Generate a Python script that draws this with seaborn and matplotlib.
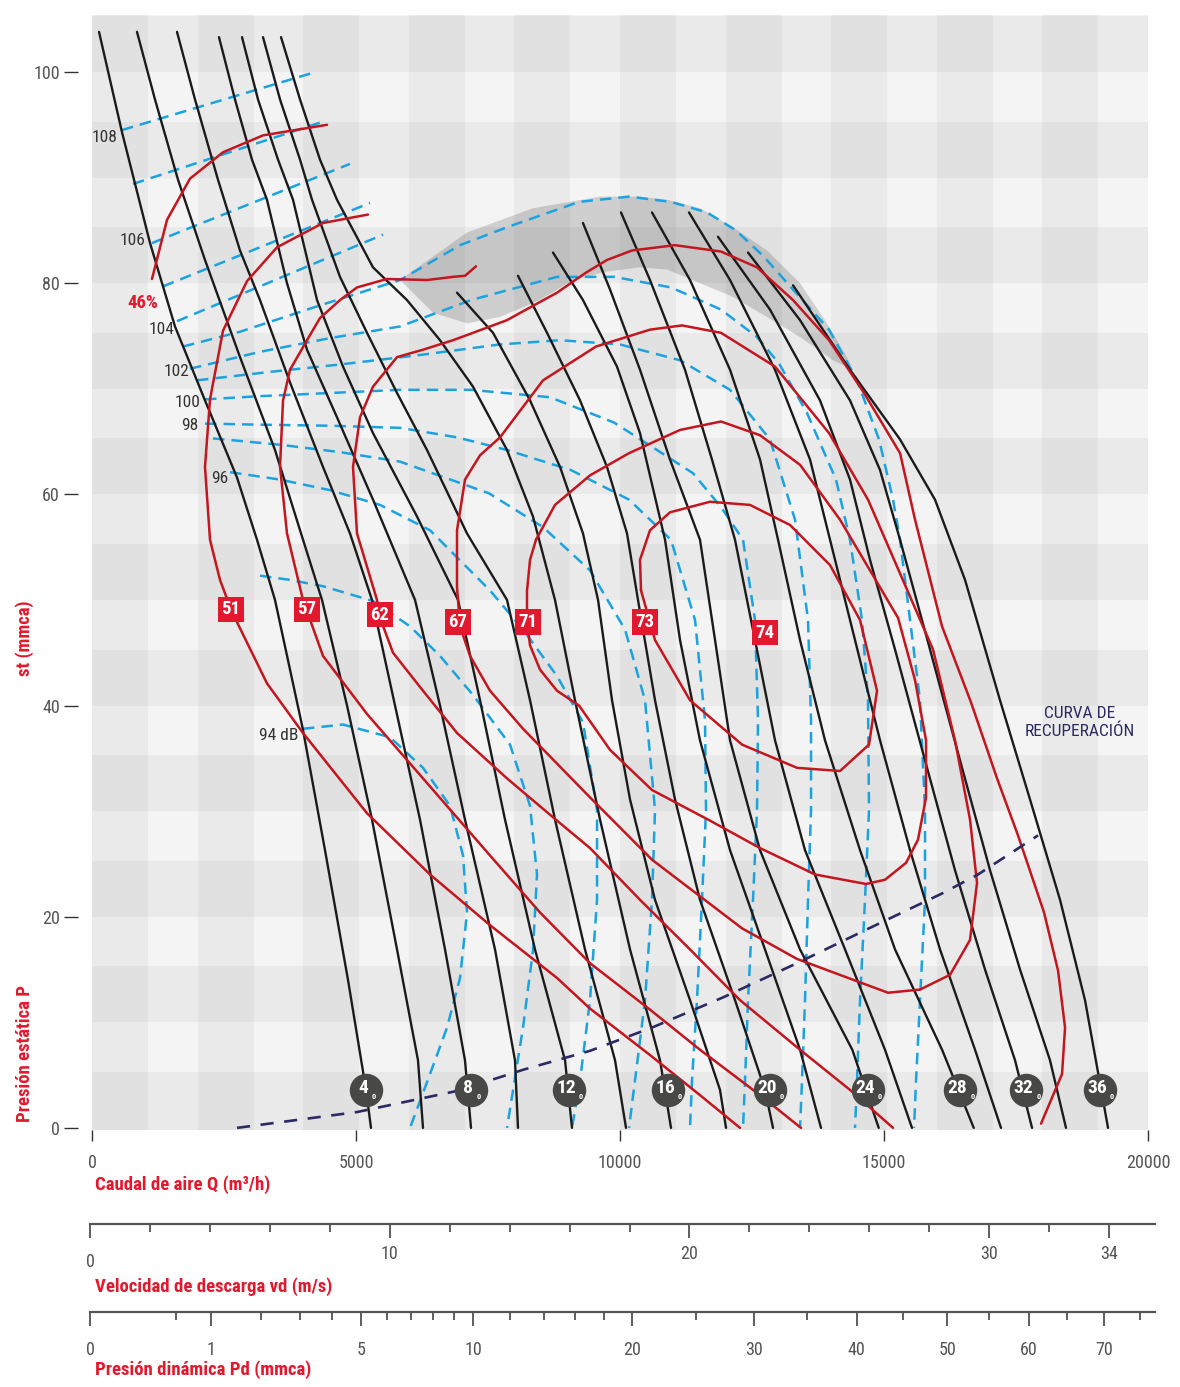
import numpy as np
import pandas as pd
import seaborn as sns
import matplotlib
matplotlib.use("Agg")
import matplotlib.pyplot as plt
from matplotlib import font_manager
from matplotlib.ticker import FixedLocator, NullFormatter

# ---------------- values ----------------
# fan curves at constant speed: flow Q (m3/h) / static pressure (mmca)
speed_q = [
    [133, 568, 1099, 1572, 2140, 2746, 3125, 3466, 3996, 4413, 4849, 5190, 5284],
    [852, 1193, 1629, 2140, 2803, 3466, 3940, 4356, 4830, 5303, 5777, 6174, 6269],
    [1610, 1951, 2386, 2803, 3182, 3750, 4375, 4886, 5303, 5739, 6212, 6686, 7064, 7178],
    [2405, 2708, 3030, 3314, 3693, 4072, 4640, 5322, 6118, 6591, 7064, 7633, 8011, 8068],
    [2841, 3144, 3523, 3807, 4262, 4754, 5322, 6156, 6932, 7349, 7822, 8390, 8959, 9091],
    [3239, 3561, 3940, 4167, 4697, 5208, 5777, 6345, 7102, 7860, 8296, 8769, 9337, 9906, 10114],
    [3580, 3940, 4318, 4640, 5322, 5966, 6591, 7216, 7860, 8352, 8769, 9148, 9622, 10190, 10758, 10966],
    [6913, 7595, 8296, 8864, 9299, 9584, 9849, 10190, 10663, 11326, 11894, 12008],
    [8068, 8618, 9243, 9754, 10133, 10341, 10663, 11042, 11515, 12178, 12746, 12898],
    [8731, 9299, 9943, 10379, 10853, 11137, 11515, 12084, 12746, 13410, 13807],
    [9299, 9811, 10379, 10947, 11515, 11800, 12084, 12652, 13410, 14400, 14900],
    [10019, 10568, 11231, 11742, 12178, 12557, 12936, 13504, 14262, 15019, 15530],
    [10606, 11326, 12084, 12652, 12993, 13410, 13883, 14546, 15209, 16100, 16700],
    [11307, 12084, 12936, 13599, 13978, 14451, 14925, 15493, 16061, 16724, 17216],
    [11856, 12841, 13788, 14356, 14735, 15209, 15777, 16345, 16913, 17482, 17804],
    [12425, 13410, 14356, 14925, 15304, 15872, 16440, 17008, 17576, 18144, 18447],
    [13277, 14356, 15304, 15966, 16535, 17197, 17766, 18334, 18807, 19243],
]
speed_p = [
    [103.8, 94.3, 83.8, 75.9, 68.9, 61.6, 55.7, 50.0, 37.7, 26.3, 14.0, 3.6, 0],
    [103.8, 97.4, 89.8, 82.2, 73.0, 64.2, 56.6, 50.0, 40.0, 29.2, 16.9, 6.4, 0],
    [103.8, 97.4, 89.8, 83.1, 78.4, 70.6, 62.6, 56.3, 50.0, 40.0, 29.2, 16.9, 6.4, 0],
    [103.3, 97.4, 91.7, 87.9, 80.0, 73.7, 67.3, 59.5, 50.0, 40.0, 29.2, 16.9, 6.4, 0],
    [103.3, 97.4, 91.7, 87.9, 78.4, 72.1, 65.8, 57.9, 50.0, 40.5, 29.2, 16.9, 6.4, 0],
    [103.3, 97.4, 91.7, 87.9, 80.6, 75.3, 69.6, 64.2, 56.3, 50.0, 40.5, 29.2, 16.9, 6.4, 0],
    [103.3, 97.4, 91.7, 87.9, 81.5, 78.4, 74.6, 70.2, 64.2, 57.9, 50.0, 40.5, 29.2, 16.9, 6.4, 0],
    [79.1, 75.3, 68.9, 62.6, 56.3, 50.0, 40.5, 31.1, 21.6, 12.1, 3.6, 0],
    [80.7, 75.3, 68.9, 62.6, 56.3, 50.0, 40.5, 31.1, 21.6, 12.1, 3.6, 0],
    [82.9, 78.4, 72.1, 65.8, 55.7, 46.2, 36.7, 26.3, 16.9, 7.4, 0],
    [85.7, 79.4, 71.8, 63.3, 55.7, 46.2, 36.7, 26.3, 16.9, 7.4, 0],
    [86.7, 80.3, 71.8, 63.3, 55.7, 46.2, 36.7, 26.3, 16.9, 7.4, 0],
    [86.7, 80.3, 71.8, 63.3, 55.7, 46.2, 36.7, 26.3, 16.9, 7.4, 0],
    [86.7, 80.3, 71.8, 63.3, 55.7, 46.2, 36.7, 26.3, 16.9, 7.4, 0],
    [84.4, 77.5, 68.9, 61.4, 53.8, 45.3, 34.8, 24.4, 15.0, 6.4, 0],
    [82.9, 76.5, 68.9, 62.3, 55.7, 45.3, 34.8, 24.4, 15.0, 6.4, 0],
    [79.8, 71.8, 65.2, 59.5, 51.9, 40.5, 31.1, 21.6, 12.1, 0],
]

# efficiency curves (46 %, 51, 57, 62, 67, 71, 73)
eff_q = [
    [1136, 1421, 1856, 2481, 3239, 4451],
    [5227, 4375, 3504, 2936, 2481, 2235, 2140, 2235, 2424, 2633, 2746, 3314, 3996, 5208,
     6402, 7538, 8807, 9432, 10568, 11515, 12273],
    [7273, 7065, 6837, 6345, 5587, 5019, 4697, 4318, 4072, 3750, 3618, 3561, 3693, 3996,
     4375, 5208, 6269, 7538, 8485, 9432, 10568, 11515, 12652, 13428],
    [15171, 14356, 13410, 12273, 11326, 10379, 9432, 8807, 7860, 6913, 6269, 5701, 5455,
     5398, 5019, 4943, 5076, 5322, 5777, 6269, 6837, 7216, 7860, 8296, 8807, 9356, 9754,
     10228, 11042, 11913, 12595, 13277, 13959, 14622, 15304, 15588, 16099, 16648, 17141,
     17538, 18031, 18296, 18429, 18372, 17974],
    [7728, 8542, 9546, 10568, 11175, 11913, 12936, 13959, 14697, 15417, 15929, 16345, 16629,
     16762, 16629, 16251, 15682, 15076, 13353, 12311, 10606, 9432, 8163, 7538, 7159, 6970,
     6913, 6913, 7065, 7349, 7728],
    [8409, 8769, 9432, 10171, 11137, 11913, 12652, 13410, 14167, 14735, 15266, 15588, 15796,
     15796, 15644, 15417, 15019, 14659, 13694, 12652, 11705, 10606, 9811, 9224, 8807, 8485,
     8296, 8239, 8239, 8296, 8409],
    [10398, 10379, 10568, 10947, 11705, 12463, 13220, 13978, 14546, 14868, 14716, 14167,
     13353, 12311, 11326, 10663, 10398],
]
eff_p = [
    [80.4, 86.0, 89.9, 92.4, 94.0, 95.0],
    [86.5, 85.7, 83.4, 80.2, 75.5, 69.0, 62.6, 55.7, 51.9, 49.1, 47.9, 42.1, 37.4, 29.8,
     24.0, 19.2, 14.2, 11.3, 6.9, 3.1, 0],
    [81.6, 80.7, 80.6, 80.3, 80.4, 79.6, 78.4, 76.7, 74.6, 71.8, 68.9, 62.6, 56.3, 50.0,
     44.7, 39.2, 33.1, 25.8, 20.4, 15.6, 11.2, 7.4, 3.1, 0],
    [0, 3.6, 7.4, 12.1, 16.9, 21.6, 26.5, 29.1, 33.1, 37.4, 41.4, 45.0, 48.3, 50.0, 56.3,
     62.6, 67.3, 70.2, 73.0, 73.7, 74.6, 75.3, 76.5, 77.7, 79.1, 81.0, 82.2, 83.1, 83.6,
     83.0, 81.5, 78.4, 74.6, 69.6, 63.9, 57.6, 47.5, 40.3, 33.1, 27.7, 20.4, 14.9, 9.5,
     5.1, 0.4],
    [65.4, 70.8, 74.0, 75.6, 76.0, 75.3, 72.1, 65.8, 59.5, 51.2, 45.3, 36.7, 29.2, 23.2,
     17.8, 14.5, 13.1, 12.8, 16.0, 18.9, 25.4, 31.3, 37.8, 41.4, 44.7, 47.5, 51.2, 56.6,
     61.4, 63.7, 65.4],
    [55.7, 59.0, 61.8, 63.9, 66.1, 66.9, 65.6, 62.8, 57.6, 52.8, 48.3, 42.4, 36.7, 31.3,
     27.3, 25.1, 23.5, 23.1, 24.0, 26.5, 29.1, 32.0, 35.8, 40.0, 41.4, 43.4, 45.7, 47.9,
     50.9, 53.8, 55.7],
    [50.9, 53.8, 56.6, 58.3, 59.3, 59.0, 57.1, 53.3, 48.1, 41.4, 36.3, 33.8, 34.1, 36.3,
     40.5, 46.2, 50.9],
]

# noise curves (dB), dashed blue
noise_q = [
    [568, 4167], [777, 4375], [1136, 4886], [1345, 5265], [1610, 5512],
    [1724, 2803, 4318, 5834, 6970, 7860, 9224, 10171, 10966, 11648, 12197, 12727, 13277,
     13959, 14489, 14906, 15171, 15304, 15493, 15682, 15777, 15777, 15682, 15607, 15569],
    [1856, 3182, 4508, 5834, 7178, 8807, 9887, 10966, 11913, 12595, 13012, 13542, 14091,
     14356, 14584, 14697, 14716, 14640, 14546, 14489, 14451],
    [1989, 3371, 4697, 6212, 7728, 8864, 10000, 11137, 12084, 12841, 13315, 13561, 13618,
     13618, 13561, 13504, 13447, 13410],
    [2140, 3182, 4508, 5834, 7178, 8675, 9887, 10701, 11383, 11913, 12330, 12557, 12614,
     12595, 12519, 12425, 12368, 12330],
    [2140, 3182, 4508, 5834, 6913, 7860, 9072, 10171, 10966, 11421, 11610, 11629, 11553,
     11458, 11364, 11326],
    [2292, 3561, 4697, 5834, 7519, 8542, 9432, 10095, 10474, 10663, 10606, 10474, 10284, 10171],
    [2614, 3561, 4508, 5455, 6402, 7538, 8163, 8807, 9299, 9565, 9565, 9432, 9243, 9091],
    [3182, 3750, 4375, 5322, 6023, 6591, 7216, 7917, 8296, 8428, 8352, 8163, 7860],
    [3996, 4754, 5644, 6269, 6781, 7027, 7103, 6970, 6724, 6402, 6023],
]
noise_p = [
    [94.5, 99.9], [89.4, 95.3], [83.8, 91.3], [79.7, 87.6], [76.4, 84.6],
    [74.0, 75.4, 77.9, 80.3, 83.6, 85.3, 87.7, 88.2, 87.7, 86.7, 85.0, 82.5, 79.4, 75.6,
     70.8, 65.2, 59.5, 55.7, 48.1, 40.5, 30.1, 21.6, 12.1, 4.5, 0],
    [71.9, 73.5, 74.8, 75.9, 78.4, 80.6, 80.6, 79.6, 77.5, 74.9, 72.4, 67.7, 61.4, 55.7,
     48.1, 40.5, 30.1, 21.6, 12.1, 4.5, 0],
    [70.8, 71.6, 72.3, 73.2, 74.2, 74.6, 74.2, 72.7, 69.9, 65.2, 57.6, 48.1, 38.6, 30.1,
     21.6, 12.1, 4.5, 0],
    [69.0, 69.3, 69.6, 69.9, 69.9, 69.2, 66.8, 64.2, 62.0, 58.8, 55.7, 48.1, 38.6, 30.1,
     21.6, 12.1, 4.5, 0],
    [66.7, 66.6, 66.5, 66.3, 65.4, 64.2, 62.3, 59.5, 55.7, 48.1, 38.6, 30.1, 21.6, 12.1, 4.5, 0],
    [65.3, 64.7, 64.0, 63.1, 60.1, 56.9, 52.8, 47.2, 40.5, 30.1, 21.6, 12.1, 4.5, 0],
    [62.1, 61.4, 60.4, 59.0, 56.6, 50.9, 47.2, 42.8, 38.4, 30.1, 21.6, 12.1, 4.5, 0],
    [52.3, 51.9, 51.3, 49.9, 47.5, 44.7, 41.0, 36.3, 30.5, 24.0, 16.8, 9.5, 0],
    [37.8, 38.2, 37.0, 34.1, 30.5, 25.8, 20.4, 14.2, 9.5, 5.1, 0],
]

# shaded zone under the top noise curve
zone_q = [5834, 7103, 8352, 9622, 10379, 10890, 11515, 12140, 12784, 13410, 13921, 14299,
          14413, 14034, 13410, 12784, 12140, 11515, 10890, 10379, 9754, 9110, 8485, 7728,
          7103, 6459]
zone_p = [80.3, 84.8, 87.1, 88.2, 88.2, 87.9, 87.1, 85.3, 83.1, 80.0, 76.2, 73.0, 71.8,
          72.7, 74.9, 76.8, 78.7, 80.0, 81.3, 81.5, 81.1, 80.3, 78.4, 76.8, 76.2, 77.2]

# recovery curve
rec_q = [2746, 5019, 6913, 8163, 9432, 10606, 11970, 13353, 14716, 16099, 16781, 17917]
rec_p = [0, 1.5, 3.5, 5.5, 7.3, 9.5, 12.4, 15.6, 18.9, 22.2, 24.0, 27.7]

# speed markers at the foot of the curves
rpm_labels = ["4", "8", "12", "16", "20", "24", "28", "32", "36"]
rpm_q = [5190, 7178, 9034, 10909, 12841, 14697, 16440, 17690, 19091]
rpm_p = 3.6

eff_labels = ["51", "57", "62", "67", "71", "73", "74"]
eff_label_q = [2633, 4072, 5455, 6932, 8258, 10474, 12747]
eff_label_p = [49.1, 49.1, 48.6, 47.9, 47.9, 47.9, 46.9]

db_labels = ["108", "106", "104", "102", "100", "98", "96", "94 dB"]
db_q = [246, 777, 1326, 1591, 1818, 1856, 2424, 3542]
db_p = [93.8, 84.0, 75.6, 71.6, 68.7, 66.5, 61.5, 37.2]

vd_major = [0, 10, 20, 30, 34]
vd_minor = [2, 4, 6, 8, 12, 14, 16, 18, 22, 24, 26, 28, 32]
pd_major = [0, 1, 5, 10, 20, 30, 40, 50, 60, 70]
pd_minor = [0.5, 2, 3, 4, 6, 7, 8, 9, 12, 14, 16, 18, 25, 35, 45, 55, 65, 75]

# ---------------- styling ----------------
sns.set_theme(style="white")
names = {f.name for f in font_manager.fontManager.ttflist}
narrow = [n for n in ["Liberation Sans Narrow", "Roboto Condensed", "Open Sans Condensed",
                      "DejaVu Sans Condensed"] if n in names]
plt.rcParams["font.family"] = narrow + ["DejaVu Sans"]
plt.rcParams["font.stretch"] = "condensed"

RED = "#c3161f"
BOX = "#e2192e"
BLUE = "#1ba3e0"
NAVY = "#2b2a62"
GREY = "#555555"

W, H = 1180, 1387
fig = plt.figure(figsize=(W / 100, H / 100), dpi=100)
fig.patch.set_facecolor("white")


def fx(px):
    return px / W


def fy(py):
    return 1 - py / H


ax = fig.add_axes([fx(92), fy(1130), fx(1148) - fx(92), fy(15) - fy(1130)])
ax.set_xlim(0, 20000)
ax.set_ylim(-0.2, 105.4)
ax.set_facecolor("#f4f4f4")

# plaid background
for k in range(11):
    ax.axhspan(10 * k - (0.2 if k == 0 else 0), 10 * k + 5.3, color="k", alpha=0.045, lw=0, zorder=0)
for k in range(10):
    ax.axvspan(2000 * k, 2000 * k + 1060, color="k", alpha=0.045, lw=0, zorder=0)

ax.fill(zone_q, zone_p, color="k", alpha=0.17, lw=0, zorder=1)


def long_form(qs, ps):
    rows = []
    for i, (q, p) in enumerate(zip(qs, ps)):
        for a, b in zip(q, p):
            rows.append((i, a, b))
    return pd.DataFrame(rows, columns=["curve", "q", "p"])


sns.lineplot(data=long_form(noise_q, noise_p), x="q", y="p", units="curve", estimator=None,
             sort=False, color=BLUE, lw=1.8, linestyle=(0, (4.6, 2.8)), ax=ax, zorder=2,
             legend=False)
sns.lineplot(data=long_form(speed_q, speed_p), x="q", y="p", units="curve", estimator=None,
             sort=False, color="#1b1b1b", lw=1.7, ax=ax, zorder=3, legend=False)
sns.lineplot(data=long_form(eff_q, eff_p), x="q", y="p", units="curve", estimator=None,
             sort=False, color=RED, lw=1.8, ax=ax, zorder=4, legend=False)
sns.lineplot(x=rec_q, y=rec_p, sort=False, color=NAVY, lw=1.9, linestyle=(0, (5, 4)),
             ax=ax, zorder=4.5)

# speed circles
ax.scatter(rpm_q, [rpm_p] * len(rpm_q), s=580, color="#484846", zorder=7, lw=0)
for q, lab in zip(rpm_q, rpm_labels):
    ax.annotate(lab, (q, rpm_p), xytext=(-2, 1.5), textcoords="offset points", ha="center",
                va="center", color="white", fontsize=14, fontweight="bold", zorder=8)
    ax.annotate("0", (q, rpm_p), xytext=(len(lab) * 3.4 + 2, -5), textcoords="offset points",
                ha="center", va="center", color="white", fontsize=6, fontweight="bold", zorder=8)

# efficiency labels
for q, p, lab in zip(eff_label_q, eff_label_p, eff_labels):
    ax.text(q, p, lab, ha="center", va="center", color="white", fontsize=13.5, fontweight="bold",
            zorder=8, bbox=dict(boxstyle="square,pad=0.2", fc=BOX, ec="none"))
ax.text(966, 78.1, "46%", ha="center", va="center", color=BOX, fontsize=13.5, fontweight="bold",
        zorder=8)

for q, p, lab in zip(db_q, db_p, db_labels):
    ax.text(q, p, lab, ha="center", va="center", color="#333333", fontsize=12.5, zorder=8)

ax.text(18712, 38.4, "CURVA DE\nRECUPERACIÓN", ha="center", va="center", color=NAVY,
        fontsize=12.5, linespacing=1.15, zorder=8)

# axes / ticks
for s in ax.spines.values():
    s.set_visible(False)
ax.spines["left"].set_position(("outward", 10))
ax.set_yticks([0, 20, 40, 60, 80, 100])
ax.set_xticks([0, 5000, 10000, 15000, 20000])
ax.tick_params(axis="y", left=True, length=10, width=1, color="#333333", labelsize=13,
               labelcolor=GREY, pad=3)
ax.tick_params(axis="x", bottom=True, length=8, width=1, color="#333333", labelsize=13,
               labelcolor=GREY, pad=9, direction="out")
ax.set_xlabel("")
ax.set_ylabel("")
ax.grid(False)

lab_kw = dict(color=BOX, fontsize=13.5, fontweight="bold")
fig.text(fx(95), fy(1185), "Caudal de aire Q (m³/h)", ha="left", va="center", **lab_kw)
fig.text(fx(25), fy(1053), "Presión estática P", rotation=90, ha="center", va="center", **lab_kw)
fig.text(fx(25), fy(638), "st (mmca)", rotation=90, ha="center", va="center", **lab_kw)
fig.text(fx(95), fy(1287), "Velocidad de descarga vd (m/s)", ha="left", va="center", **lab_kw)
fig.text(fx(95), fy(1370), "Presión dinámica Pd (mmca)", ha="left", va="center", **lab_kw)

# discharge velocity scale
axv = fig.add_axes([fx(90), fy(1224), fx(1155) - fx(90), 0.0001])
axv.set_xlim(0, 35.53)
axv.set_yticks([])
for name, s in axv.spines.items():
    s.set_visible(name == "bottom")
axv.spines["bottom"].set_color("#555555")
axv.spines["bottom"].set_linewidth(1.6)
axv.xaxis.set_major_locator(FixedLocator(vd_major))
axv.xaxis.set_minor_locator(FixedLocator(vd_minor))
axv.set_xticklabels([""] + [str(v) for v in vd_major[1:]])
axv.xaxis.set_minor_formatter(NullFormatter())
axv.tick_params(axis="x", which="major", bottom=True, length=10, width=1.1, color="#333333",
                labelsize=13, labelcolor=GREY, pad=5)
axv.tick_params(axis="x", which="minor", bottom=True, length=6, width=1.1, color="#333333")
axv.annotate("0", (0, 0), xytext=(0, -38), textcoords="offset pixels", ha="center",
             va="center", fontsize=13, color=GREY)
axv.set_facecolor("none")

# dynamic pressure scale (Pd grows with vd squared)
axp = fig.add_axes([fx(90), fy(1312), fx(1155) - fx(90), 0.0001])
axp.set_xscale("function", functions=(lambda x: np.sqrt(np.clip(x, 0, None) * 16.35),
                                       lambda v: np.asarray(v) ** 2 / 16.35))
axp.set_xlim(0, 77.2)
axp.set_yticks([])
for name, s in axp.spines.items():
    s.set_visible(name == "bottom")
axp.spines["bottom"].set_color("#555555")
axp.spines["bottom"].set_linewidth(1.6)
axp.xaxis.set_major_locator(FixedLocator(pd_major))
axp.xaxis.set_minor_locator(FixedLocator(pd_minor))
axp.set_xticklabels([str(v) for v in pd_major])
axp.xaxis.set_minor_formatter(NullFormatter())
axp.tick_params(axis="x", which="major", bottom=True, length=10, width=1.1, color="#333333",
                labelsize=13, labelcolor=GREY, pad=11)
axp.tick_params(axis="x", which="minor", bottom=True, length=6, width=1.1, color="#333333")
axp.set_facecolor("none")

fig.savefig("out.png", dpi=100, facecolor="white")
